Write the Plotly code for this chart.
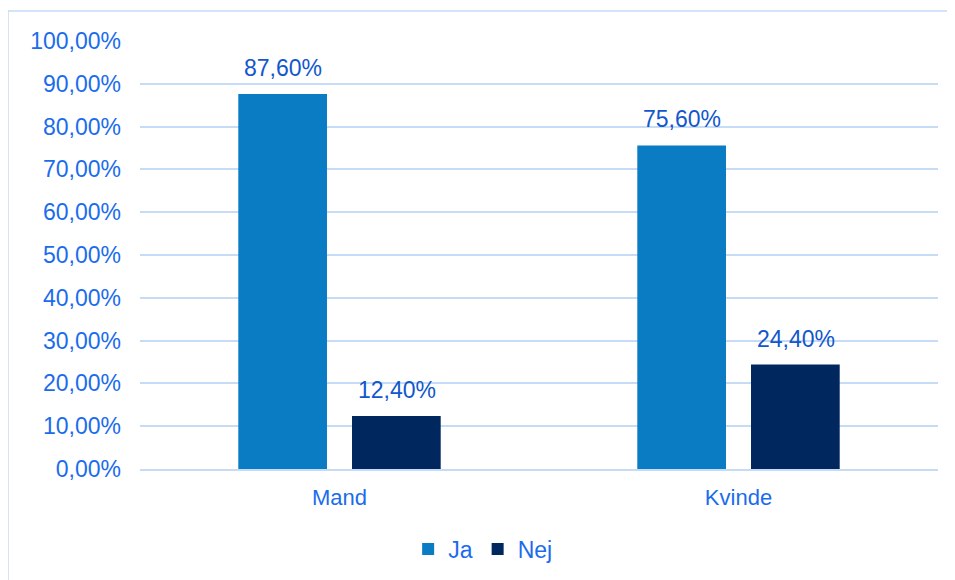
import plotly.graph_objects as go

categories = ["Mand", "Kvinde"]
series_names = ["Ja", "Nej"]
ja_values = [87.6, 75.6]
nej_values = [12.4, 24.4]
tick_values = [0, 10, 20, 30, 40, 50, 60, 70, 80, 90, 100]

colors = ["#0a7cc4", "#00285e"]
tick_color = "#1a6cec"
label_color = "#1257cc"
grid_color = "#c6dbf6"
font_family = "Liberation Sans, Arial, sans-serif"


def fmt(v):
    return f"{v:.2f}".replace(".", ",") + "%"


fig = go.Figure()
all_values = [ja_values, nej_values]
for name, vals, col in zip(series_names, all_values, colors):
    fig.add_trace(go.Bar(
        x=categories, y=vals, name=name,
        marker=dict(color=col, line=dict(width=0)),
        hoverinfo="skip",
    ))

annotations = []
for i, vals in enumerate(all_values):
    for cat, v in zip(categories, vals):
        annotations.append(dict(
            x=cat, y=v, xref="x", yref="y", text=fmt(v), showarrow=False,
            yanchor="bottom", yshift=11, xshift=(i - 0.5) * 114,
            font=dict(family=font_family, size=23, color=label_color),
        ))

fig.update_layout(
    width=955, height=580,
    margin=dict(l=132, r=25, t=33, b=119),
    paper_bgcolor="white", plot_bgcolor="white",
    barmode="group", bargap=0.43, bargroupgap=0.22,
    font=dict(family=font_family, size=23, color=tick_color),
    showlegend=True,
    legend=dict(orientation="h", x=0.43, xanchor="center", y=-0.187, yanchor="middle",
                font=dict(family=font_family, size=23, color=tick_color),
                itemwidth=30, tracegroupgap=0),
    annotations=annotations,
    shapes=[dict(type="rect", xref="paper", yref="paper",
                 x0=-0.1654, x1=1.05, y0=-0.4, y1=1.0701,
                 line=dict(color=grid_color, width=1.5), fillcolor="rgba(0,0,0,0)",
                 layer="below")],
    xaxis=dict(showgrid=False, showline=True, linecolor=grid_color, linewidth=2,
               ticks="", ticklabelstandoff=8, tickfont=dict(size=22, color=tick_color)),
    yaxis=dict(range=[0, 100], tickvals=tick_values, ticktext=[fmt(t) for t in tick_values],
               showgrid=True, gridcolor=grid_color, gridwidth=2,
               zeroline=False, showline=False, ticks="", ticklabelstandoff=18,
               tickfont=dict(size=23, color=tick_color)),
)

fig.write_html("out.html")
